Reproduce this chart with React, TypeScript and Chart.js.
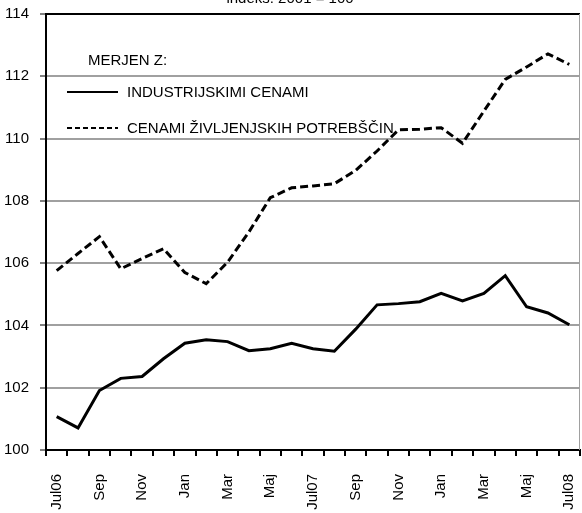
import React, { useEffect, useRef } from "react";
import { Chart, registerables } from "chart.js";

Chart.register(...registerables);

const months = [
  "Jul06", "Avg", "Sep", "Okt", "Nov", "Dec", "Jan", "Feb", "Mar", "Apr", "Maj", "Jun",
  "Jul07", "Avg", "Sep", "Okt", "Nov", "Dec", "Jan", "Feb", "Mar", "Apr", "Maj", "Jun", "Jul08",
];
const shownLabels = [
  "Jul06", "", "Sep", "", "Nov", "", "Jan", "", "Mar", "", "Maj", "",
  "Jul07", "", "Sep", "", "Nov", "", "Jan", "", "Mar", "", "Maj", "", "Jul08",
];
const industrialPrices = [
  101.07, 100.71, 101.91, 102.3, 102.36, 102.93, 103.43, 103.54, 103.48, 103.19, 103.25, 103.43,
  103.25, 103.17, 103.88, 104.66, 104.7, 104.76, 105.03, 104.79, 105.03, 105.6, 104.6, 104.4, 104.02,
];
const consumerPrices = [
  105.76, 106.31, 106.85, 105.82, 106.15, 106.46, 105.7, 105.34, 106.03, 107.0, 108.1, 108.42,
  108.48, 108.55, 108.98, 109.6, 110.28, 110.3, 110.35, 109.85, 110.88, 111.9, 112.3, 112.72, 112.38,
];
const yTicks = [100, 102, 104, 106, 108, 110, 112, 114];
const titleText = "indeks: 2001 = 100";
const legendHeading = "MERJEN Z:";
const seriesNames = ["INDUSTRIJSKIMI CENAMI", "CENAMI ŽIVLJENJSKIH POTREBŠČIN"];

const FONT = '"Liberation Sans", Arial, sans-serif';

const overlayPlugin = {
  id: "overlay",
  afterDraw(chart: any) {
    const ctx = chart.ctx as CanvasRenderingContext2D;
    const ca = chart.chartArea;
    ctx.save();
    // right border
    ctx.strokeStyle = "#a0a0a0";
    ctx.lineWidth = 1;
    ctx.beginPath();
    ctx.moveTo(ca.right - 0.5, ca.top);
    ctx.lineTo(ca.right - 0.5, ca.bottom);
    ctx.stroke();
    // title (partially cut off at top)
    ctx.fillStyle = "#000";
    ctx.font = `15px ${FONT}`;
    ctx.textAlign = "center";
    ctx.textBaseline = "alphabetic";
    ctx.fillText(titleText, 290, 3);
    // legend
    ctx.textAlign = "left";
    ctx.textBaseline = "middle";
    ctx.fillText(legendHeading, 88, 61);
    const ds = chart.data.datasets;
    const rows = [92, 128];
    ds.forEach((d: any, i: number) => {
      const y = rows[i];
      ctx.strokeStyle = "#000";
      ctx.lineWidth = 2;
      ctx.setLineDash(d.borderDash ? [5, 3] : []);
      ctx.beginPath();
      ctx.moveTo(67, y);
      ctx.lineTo(118, y);
      ctx.stroke();
      ctx.setLineDash([]);
      ctx.fillText(d.label, 127, y + 1);
    });
    ctx.restore();
  },
};

export default function App() {
  const ref = useRef<HTMLCanvasElement | null>(null);
  useEffect(() => {
    document.body.style.margin = "0";
    const canvas = ref.current!;
    const chart = new Chart(canvas, {
      type: "line",
      data: {
        labels: shownLabels,
        datasets: [
          {
            label: seriesNames[0],
            data: industrialPrices,
            borderColor: "#000",
            borderWidth: 3,
            pointRadius: 0,
            tension: 0,
            fill: false,
          },
          {
            label: seriesNames[1],
            data: consumerPrices,
            borderColor: "#000",
            borderWidth: 3,
            borderDash: [8, 4],
            pointRadius: 0,
            tension: 0,
            fill: false,
          },
        ],
      },
      options: {
        animation: false,
        responsive: false,
        devicePixelRatio: 1,
        layout: { padding: { top: 14, right: 2, left: 0, bottom: 0 } },
        plugins: {
          legend: { display: false },
          tooltip: { enabled: false },
          title: { display: false },
        },
        scales: {
          x: {
            type: "category",
            offset: true,
            afterFit: (s: any) => {
              s.height = 63;
              s.paddingLeft = 0;
              s.paddingRight = 0;
            },
            grid: {
              offset: true,
              drawOnChartArea: false,
              drawTicks: true,
              tickLength: 6,
              color: "#000",
              lineWidth: 2,
            },
            border: { color: "#000", width: 2 },
            ticks: {
              autoSkip: false,
              minRotation: 90,
              maxRotation: 90,
              padding: 18,
              color: "#000",
              font: { family: FONT, size: 15 },
            },
          },
          y: {
            min: 100,
            max: 114,
            afterFit: (s: any) => {
              s.width = 46;
              s.paddingTop = 0;
              s.paddingBottom = 0;
            },
            afterBuildTicks: (s: any) => {
              s.ticks = yTicks.map((v) => ({ value: v }));
            },
            grid: {
              color: (c: any) => (c.tick && c.tick.value === 114 ? "#000" : "#a0a0a0"),
              lineWidth: 2,
              tickLength: 6,
              tickColor: "#000",
              tickWidth: 1,
            },
            border: { color: "#000", width: 2 },
            ticks: {
              padding: 11,
              color: "#000",
              font: { family: FONT, size: 15 },
            },
          },
        },
      },
      plugins: [overlayPlugin],
    });
    return () => chart.destroy();
  }, []);
  return (
    <div style={{ width: 582, height: 513 }}>
      <canvas ref={ref} width={582} height={513} style={{ display: "block" }} />
    </div>
  );
}
